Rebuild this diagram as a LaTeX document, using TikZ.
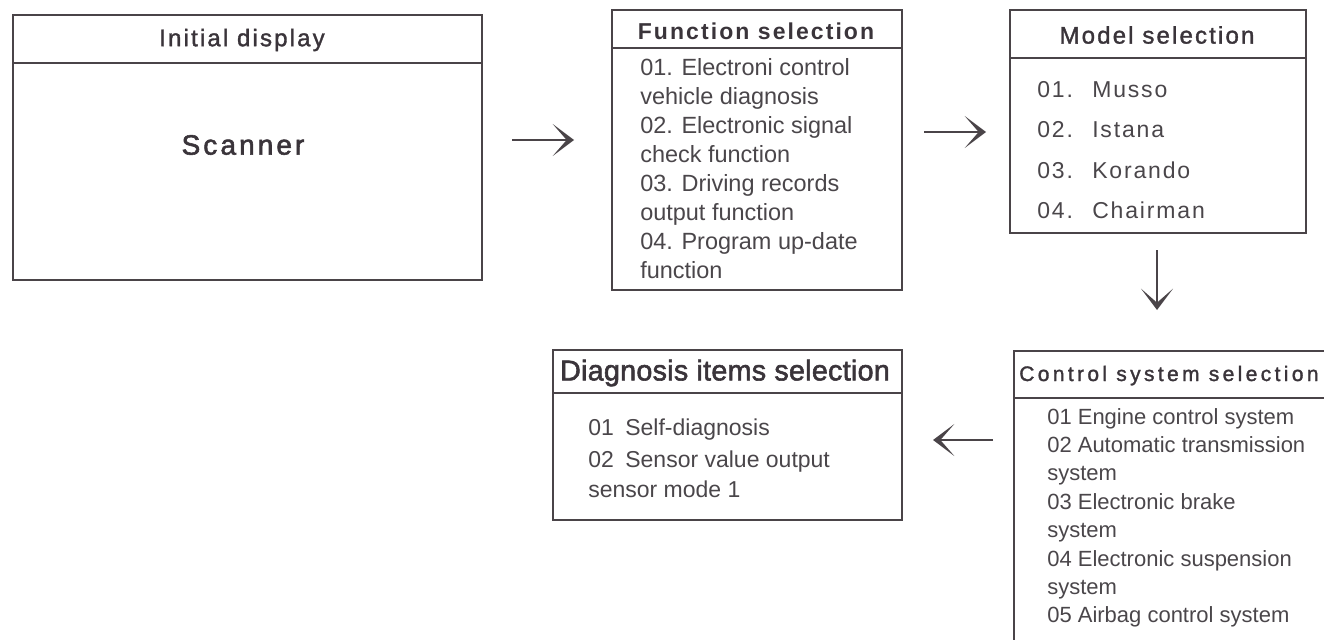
\documentclass[tikz,border=0pt]{standalone}
\usepackage{fontspec}
\setmainfont{Liberation Sans}
\newfontfamily\hdfont[LetterSpace=9,FakeBold=1.5]{Liberation Sans}
\newfontfamily\scanfont[LetterSpace=11,FakeBold=2]{Liberation Sans}
\newfontfamily\funchd[LetterSpace=9]{Liberation Sans Bold}
\newfontfamily\modelfont[LetterSpace=8]{Liberation Sans}
\newfontfamily\diaghd[LetterSpace=1,FakeBold=2]{Liberation Sans}
\newfontfamily\ctrlhd[LetterSpace=16,FakeBold=1.5]{Liberation Sans}
\usetikzlibrary{arrows.meta,calc}
\definecolor{ink}{HTML}{3A343A}
\definecolor{bodyink}{HTML}{4A464A}
\definecolor{lineink}{HTML}{4A4448}
\begin{document}
\begin{tikzpicture}[x=0.75pt,y=-0.75pt,
  box/.style={draw=lineink,line width=1.2pt,rectangle,anchor=north west,inner sep=0pt,outer sep=0pt},
  hline/.style={draw=lineink,line width=1.2pt},
  txt/.style={inner sep=0pt,anchor=base west,text=bodyink},
  ctxt/.style={inner sep=0pt,anchor=center,text=ink},
  arr/.style={draw=lineink,line width=1.6pt,-{Stealth[length=16pt,width=24pt,inset=10.5pt]}}]
\useasboundingbox (0,0) rectangle (1324,639);
\clip (0,0) rectangle (1324,639);

% boxes
\node[box,minimum width=351.75pt,minimum height=198.75pt] (init) at (13,15) {};
\node[box,minimum width=217.5pt,minimum height=210pt] (func) at (612,10) {};
\node[box,minimum width=222pt,minimum height=167.25pt] (model) at (1010,10) {};
\node[box,minimum width=261.75pt,minimum height=127.5pt] (diag) at (553,350) {};
\node[box,minimum width=250pt,minimum height=231.75pt] (ctrl) at (1014,351) {};

% header rules
\draw[hline] ($(init.north west)+(0,48)$) -- ($(init.north east)+(0,48)$);
\draw[hline] ($(func.north west)+(0,38)$) -- ($(func.north east)+(0,38)$);
\draw[hline] ($(model.north west)+(0,48)$) -- ($(model.north east)+(0,48)$);
\draw[hline] ($(diag.north west)+(0,43)$) -- ($(diag.north east)+(0,43)$);
\draw[hline] ($(ctrl.north west)+(0,47)$) -- ($(ctrl.north east)+(0,47)$);

% Initial display
\node[ctxt,font=\hdfont\fontsize{18pt}{20pt}\selectfont] (inith) at (242,40) {Initial display};
\node[ctxt,font=\scanfont\fontsize{21pt}{24pt}\selectfont] (scan) at (243,145) {Scanner};

% Function selection
\node[ctxt,font=\funchd\fontsize{17.25pt}{20pt}\selectfont] (funch) at (756,31) {Function selection};
\foreach \t [count=\i] in {01. Electroni control,vehicle diagnosis,02. Electronic signal,check function,03. Driving records,output function,04. Program up-date,function}
  \node[txt,font=\fontsize{17.6pt}{20pt}\selectfont] (f\i) at (640,{75+29*(\i-1)}) {\t};

% Model selection
\node[ctxt,font=\hdfont\fontsize{18pt}{20pt}\selectfont] (modelh) at (1157,35) {Model selection};
\foreach \n/\m [count=\i] in {01./Musso,02./Istana,03./Korando,04./Chairman}{
  \node[txt,font=\modelfont\fontsize{17.25pt}{20pt}\selectfont] (mn\i) at (1037,{97+40.5*(\i-1)}) {\n};
  \node[txt,font=\modelfont\fontsize{17.25pt}{20pt}\selectfont] (mm\i) at (1092,{97+40.5*(\i-1)}) {\m};
}

% Diagnosis items selection
\node[ctxt,font=\diaghd\fontsize{21.5pt}{24pt}\selectfont] (diagh) at (725,373) {Diagnosis items selection};
\node[txt,font=\fontsize{17.25pt}{20pt}\selectfont] (d1) at (588,435) {01\hspace{0.5em}Self-diagnosis};
\node[txt,font=\fontsize{17.25pt}{20pt}\selectfont] (d2) at (588,467) {02\hspace{0.5em}Sensor value output};
\node[txt,font=\fontsize{17.25pt}{20pt}\selectfont] (d3) at (588,497) {sensor mode 1};

% Control system selection
\node[txt,text=ink,font=\ctrlhd\fontsize{15.75pt}{18pt}\selectfont] (ctrlh) at (1019,381) {Control system selection};
\foreach \t [count=\i] in {01 Engine control system,02 Automatic transmission,system,03 Electronic brake,system,04 Electronic suspension,system,05 Airbag control system}
  \node[txt,font=\fontsize{16.5pt}{19pt}\selectfont] (c\i) at (1047,{424+28.4*(\i-1)}) {\t};

% arrows
\coordinate (a1s) at (512,140); \coordinate (a1e) at (574,140);
\coordinate (a2s) at (924,132); \coordinate (a2e) at (986,132);
\coordinate (a3s) at (1157,250); \coordinate (a3e) at (1157,310);
\coordinate (a4s) at (993,440); \coordinate (a4e) at (933,440);
\draw[arr] (a1s) -- (a1e);
\draw[arr] (a2s) -- (a2e);
\draw[arr] (a3s) -- (a3e);
\draw[arr] (a4s) -- (a4e);
\end{tikzpicture}
\end{document}
